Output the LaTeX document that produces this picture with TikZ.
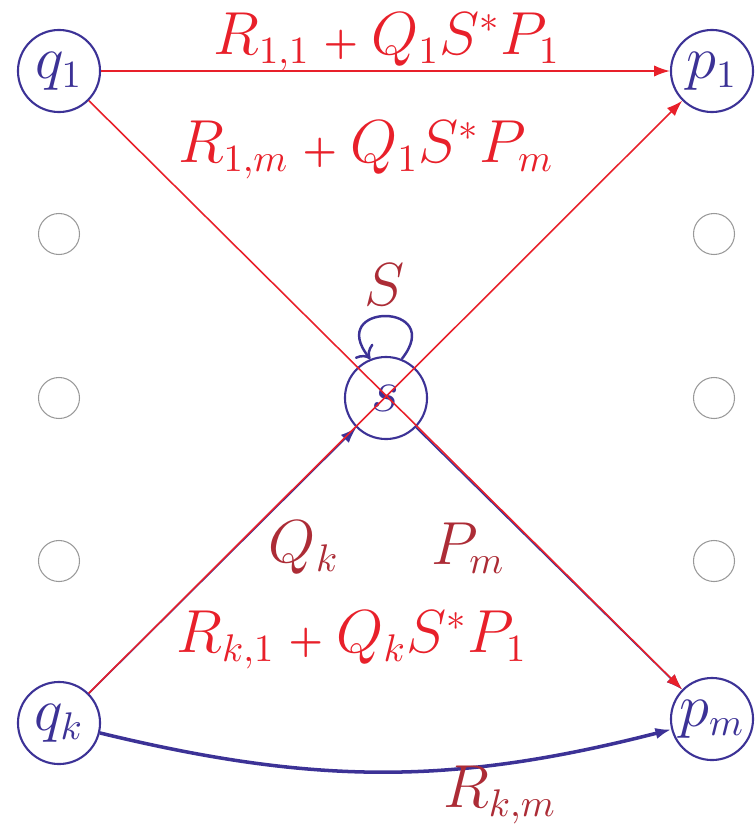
\documentclass[tikz,border=0pt]{standalone}
\usepackage{amsmath,amssymb,bm}
\usepackage{tikz}
\usepackage{xcolor}
\usetikzlibrary{arrows.meta}

\definecolor{stateblue}{RGB}{60,50,150}
\definecolor{newred}{RGB}{232,32,42}
\definecolor{oldred}{RGB}{172,44,54}

\newcommand{\pl}{\mathbin{\scriptstyle\bm{+}}}

\tikzset{
  state/.style={circle,draw=stateblue,line width=0.6pt,minimum size=0.82cm,inner sep=0pt,text=stateblue},
  other/.style={circle,draw=black!40,line width=0.3pt,minimum size=0.41cm,inner sep=0pt},
  oldedge/.style={draw=stateblue,line width=0.45pt,-{Latex[length=4.5pt,width=3.2pt]}},
  newedge/.style={draw=newred,line width=0.45pt,-{Latex[length=4.5pt,width=3.2pt]}},
  oldlab/.style={text=oldred,inner sep=0pt},
  newlab/.style={text=newred,inner sep=0pt}
}

\begin{document}
\begin{tikzpicture}[x=0.01cm,y=-0.01cm,font=\fontsize{16}{19}\selectfont]
\useasboundingbox (0,0) rectangle (755,827);

% states
\node[state] (q1) at (59,71) {$q_1$};
\node[state] (qk) at (59,723) {$q_k$};
\node[state] (p1) at (712,71) {$p_1$};
\node[state] (pm) at (712,719) {$p_m$};
\node[state] (s) at (386,398) {$s$};

% the other states
\node[other] (ql2) at (59,234) {};
\node[other] (ql3) at (59,398) {};
\node[other] (ql4) at (59,561) {};
\node[other] (pr2) at (714,234) {};
\node[other] (pr3) at (714,398) {};
\node[other] (pr4) at (714,561) {};

% old edges
\draw[oldedge] (qk) -- (s);
\draw[oldedge] (s) -- (pm);
\draw[oldedge,line width=0.7pt,<-] (s.112) .. controls (325,302) and (447,302) .. (s.68);
\draw[oldedge,line width=1pt] (qk) to[bend right=14] (pm);

% new edges
\draw[newedge] (q1) -- (p1);
\draw[newedge] (q1) -- (pm);
\draw[newedge] (qk) -- (p1);

% labels
\node[newlab] (l11) at (387,42) {$R_{1,1}\pl Q_1S^*P_1$};
\node[newlab] (l1m) at (366,150) {$R_{1,m}\pl Q_1S^*P_m$};
\node[newlab] (lk1) at (352,640) {$R_{k,1}\pl Q_kS^*P_1$};
\node[oldlab] (ls) at (385,285) {$S$};
\node[oldlab] (lq) at (304,548) {$Q_k$};
\node[oldlab] (lp) at (468,548) {$P_m$};
\node[oldlab] (lkm) at (500,795) {$R_{k,m}$};
\end{tikzpicture}
\end{document}
